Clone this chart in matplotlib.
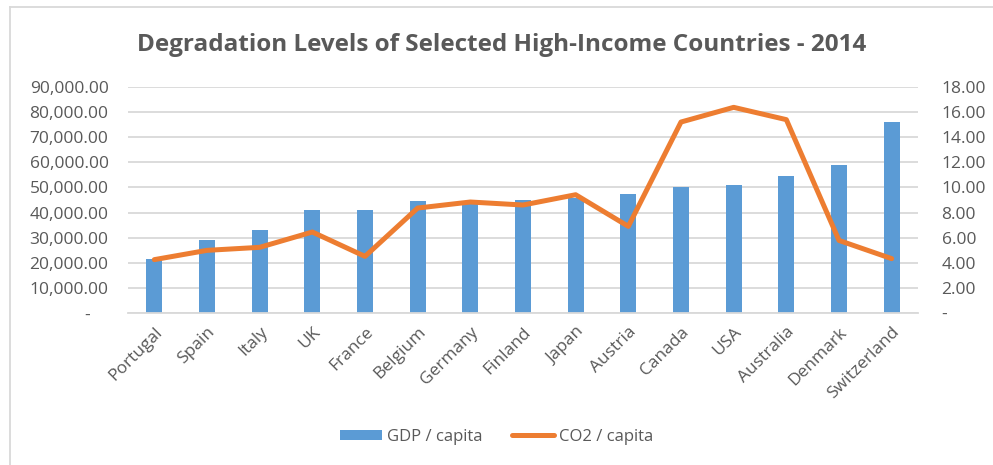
import numpy as np
import matplotlib
matplotlib.use("Agg")
import matplotlib.pyplot as plt
from matplotlib.lines import Line2D
from matplotlib.ticker import FuncFormatter

plt.rcParams['font.family'] = ['Open Sans', 'DejaVu Sans']

countries = ['Portugal', 'Spain', 'Italy', 'UK', 'France', 'Belgium', 'Germany',
             'Finland', 'Japan', 'Austria', 'Canada', 'USA', 'Australia',
             'Denmark', 'Switzerland']
gdp = [21500, 29200, 33200, 41100, 41100, 44700, 44000,
       45100, 45600, 47500, 50000, 50800, 54600, 59100, 76200]
co2 = [4.25, 4.99, 5.23, 6.45, 4.51, 8.36, 8.84,
       8.60, 9.42, 6.90, 15.21, 16.38, 15.40, 5.78, 4.33]

blue = '#5b9bd5'
orange = '#ed7d31'
grey_txt = '#595959'
grid_c = '#d9d9d9'

fig = plt.figure(figsize=(9.93, 4.65), dpi=100)
ax = fig.add_axes([128 / 993, 1 - 313 / 465, (918 - 128) / 993, (313 - 87) / 465])
ax2 = ax.twinx()

x = np.arange(len(countries))
ax.bar(x, gdp, width=0.31, color=blue, zorder=2, label='GDP / capita')
ax2.plot(x, co2, color=orange, lw=3.6, solid_joinstyle='round',
         solid_capstyle='round', label='CO2 / capita')

ax.set_xlim(-0.5, len(countries) - 0.5)
ax.set_ylim(0, 90000)
ax2.set_ylim(0, 18)
ax.set_yticks(np.arange(0, 90001, 10000))
ax2.set_yticks(np.arange(0, 18.1, 2))

ax.yaxis.set_major_formatter(FuncFormatter(lambda v, p: '-    ' if v == 0 else f'{v:,.2f}'))
ax2.yaxis.set_major_formatter(FuncFormatter(lambda v, p: '-' if v == 0 else f'{v:.2f}'))

ax.grid(axis='y', color=grid_c, lw=1.3, zorder=0)
ax.set_axisbelow(True)
for a in (ax, ax2):
    for s in a.spines.values():
        s.set_visible(False)
ax.spines['bottom'].set_visible(True)
ax.spines['bottom'].set_color(grid_c)
ax.spines['bottom'].set_linewidth(1.3)

ax.set_xticks(x)
ax.set_xticklabels(countries, rotation=45, ha='right', rotation_mode='anchor')
ax.tick_params(axis='x', length=0, pad=8, labelsize=12.5, labelcolor=grey_txt)
ax.tick_params(axis='y', length=0, pad=14, labelsize=12.5, labelcolor=grey_txt)
ax2.tick_params(axis='y', length=0, pad=17, labelsize=12.5, labelcolor=grey_txt)

fig.text(0.505, 1 - 45 / 465, 'Degradation Levels of Selected High-Income Countries - 2014',
         ha='center', va='center', fontsize=17.5, fontweight='bold', color=grey_txt)

h1, l1 = ax.get_legend_handles_labels()
h2, l2 = ax2.get_legend_handles_labels()
fig.legend(h1 + h2, l1 + l2, loc='center', bbox_to_anchor=(0.5, 1 - 437 / 465),
           ncol=2, frameon=False, fontsize=12, labelcolor=grey_txt,
           handlelength=2.5, handleheight=0.6, handletextpad=0.3, columnspacing=1.8)

# chart frame
fig.add_artist(Line2D([10 / 993, 10 / 993], [0, 1 - 7 / 465], color=grid_c, lw=1.3))
fig.add_artist(Line2D([10 / 993, 1], [1 - 7 / 465, 1 - 7 / 465], color=grid_c, lw=1.3))

fig.savefig('out.png', dpi=100)
